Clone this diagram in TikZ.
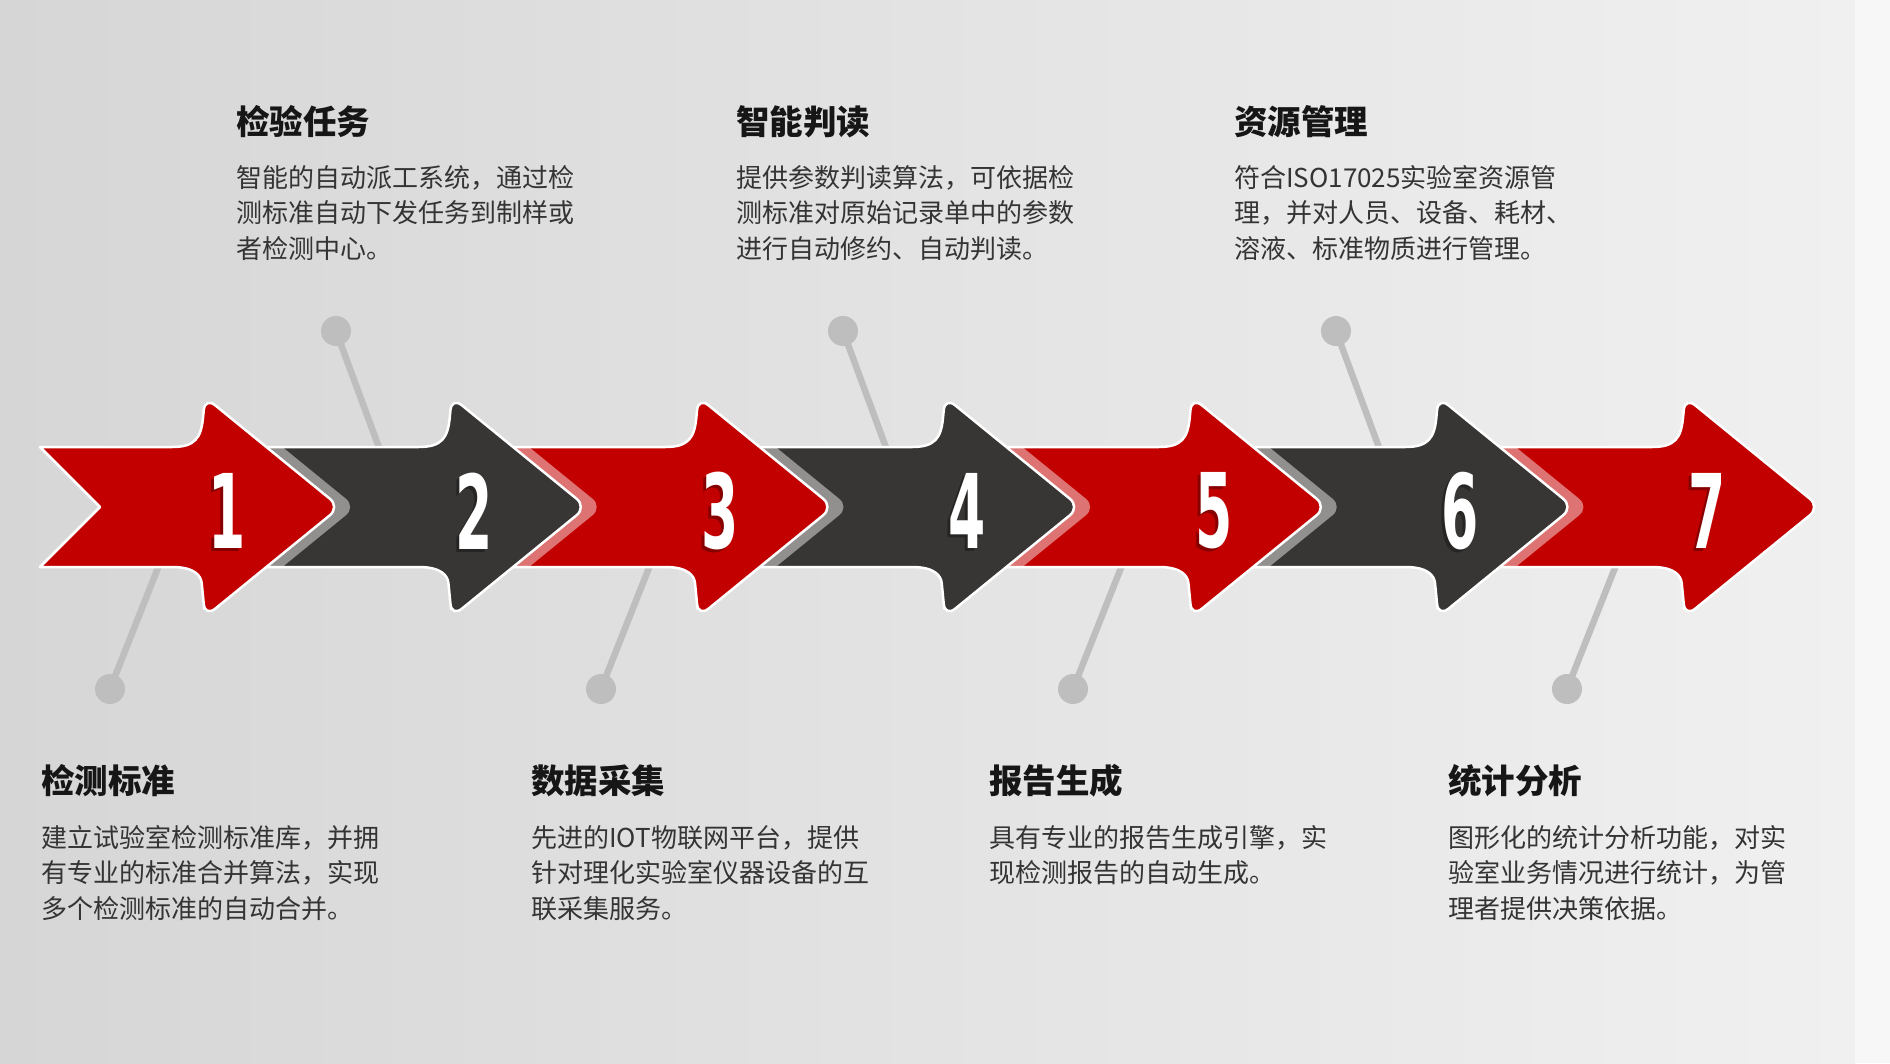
\documentclass[tikz,border=0pt]{standalone}
\usepackage{fontspec}
\usepackage{graphicx}
\newfontfamily\cjk{Noto Sans CJK SC}
\newfontfamily\digitfont{DejaVu Sans}
\definecolor{cRed}{RGB}{194,0,0}
\definecolor{cDark}{RGB}{56,54,52}
\definecolor{bgA}{RGB}{214,214,214}
\definecolor{bgB}{RGB}{240,240,240}
\definecolor{bgC}{RGB}{247,247,247}
\definecolor{pinGray}{RGB}{190,190,190}
\definecolor{headC}{RGB}{22,22,22}
\definecolor{bodyC}{RGB}{52,52,52}
% #1 band start x, #2 tip x, #3 extra closing segment
\newcommand\arrowshape[3]{(#1,447) -- ({#2-168},447) .. controls ({#2-145},447) and ({#2-139},438) .. ({#2-137},418)
 [rounded corners=13pt] -- ({#2-135},397) -- (#2,507) -- ({#2-135},617) -- ({#2-137},596) [sharp corners]
 .. controls ({#2-139},576) and ({#2-145},567) .. ({#2-168},567) -- (#1,567) #3 -- cycle}
\begin{document}
\begin{tikzpicture}[x=1pt,y=-1pt,
  dot/.style={circle, fill=pinGray, minimum size=30pt, inner sep=0pt},
  stem/.style={draw=pinGray, line width=6.5pt},
  digit/.style={inner sep=0pt, text=white, font=\digitfont\bfseries\fontsize{103}{103}\selectfont},
  digitshadow/.style={inner sep=0pt, text=black, opacity=0.3, font=\digitfont\bfseries\fontsize{103}{103}\selectfont},
  head/.style={anchor=west, inner sep=0pt, font=\cjk\bfseries\fontsize{33.5}{36}\selectfont, text=headC},
  body/.style={anchor=north west, inner sep=0pt, align=left, font=\cjk\fontsize{26}{35.5}\selectfont, text=bodyC},
  arrowfill/.style={draw=white, line width=2.5pt, line join=round}]
\useasboundingbox (0,0) rectangle (1890,1063);
% background
\shade[left color=bgA, right color=bgB] (0,0) rectangle (1855,1063);
\fill[bgC] (1855,0) rectangle (1890,1063);

% pins (top)
\node[dot] (t2) at (336,331) {};
\node[dot] (t4) at (843,331) {};
\node[dot] (t6) at (1336,331) {};
\coordinate (t2e) at (391,480);
\coordinate (t4e) at (898,480);
\coordinate (t6e) at (1391,480);
\draw[stem] (t2.center) -- (t2e);
\draw[stem] (t4.center) -- (t4e);
\draw[stem] (t6.center) -- (t6e);
% pins (bottom)
\node[dot] (u1) at (110,689) {};
\node[dot] (u3) at (601,689) {};
\node[dot] (u5) at (1073,689) {};
\node[dot] (u7) at (1567,689) {};
\coordinate (u1e) at (169,540);
\coordinate (u3e) at (660,540);
\coordinate (u5e) at (1132,540);
\coordinate (u7e) at (1626,540);
\draw[stem] (u1.center) -- (u1e);
\draw[stem] (u3.center) -- (u3e);
\draw[stem] (u5.center) -- (u5e);
\draw[stem] (u7.center) -- (u7e);

% arrows, drawn from right to left
\foreach \i/\xt/\col in {7/1820/cRed,6/1573.3/cDark,5/1326.7/cRed,4/1080/cDark,3/833.3/cRed,2/586.7/cDark,1/340/cRed}{
  \pgfmathsetmacro\xs{\xt-246.667-120}
  \pgfmathsetmacro\pt{\xt-246.667}
  \ifnum\i=1
    \fill[\col, arrowfill] \arrowshape{40}{\xt}{-- (100,507)};
  \else
    \fill[\col, arrowfill] \arrowshape{\xs}{\xt}{};
  \fi
  \node[digitshadow] (s\i) at ({\xt-116},514) {\scalebox{0.52}[1]{\i}};
  \node[digit] (d\i) at ({\xt-113},511) {\scalebox{0.52}[1]{\i}};
  \ifnum\i>1
    \begin{scope}
      \clip (\xs,447) rectangle ({\pt+60},567);
      \fill[white, opacity=0.45, xshift=16pt] \arrowshape{\xs-100}{\pt}{};
    \end{scope}
  \fi
}

% texts (top)
\node[head] (h2) at (236,122) {检验任务};
\node[body] (b2) at (236,165) {智能的自动派工系统，通过检\\测标准自动下发任务到制样或\\者检测中心。};
\node[head] (h4) at (736,122) {智能判读};
\node[body] (b4) at (736,165) {提供参数判读算法，可依据检\\测标准对原始记录单中的参数\\进行自动修约、自动判读。};
\node[head] (h6) at (1234,122) {资源管理};
\node[body] (b6) at (1234,165) {符合ISO17025实验室资源管\\理，并对人员、设备、耗材、\\溶液、标准物质进行管理。};
% texts (bottom)
\node[head] (h1) at (41,781) {检测标准};
\node[body] (b1) at (41,825) {建立试验室检测标准库，并拥\\有专业的标准合并算法，实现\\多个检测标准的自动合并。};
\node[head] (h3) at (531,781) {数据采集};
\node[body] (b3) at (531,825) {先进的IOT物联网平台，提供\\针对理化实验室仪器设备的互\\联采集服务。};
\node[head] (h5) at (989,781) {报告生成};
\node[body] (b5) at (989,825) {具有专业的报告生成引擎，实\\现检测报告的自动生成。};
\node[head] (h7) at (1448,781) {统计分析};
\node[body] (b7) at (1448,825) {图形化的统计分析功能，对实\\验室业务情况进行统计，为管\\理者提供决策依据。};
\end{tikzpicture}
\end{document}
